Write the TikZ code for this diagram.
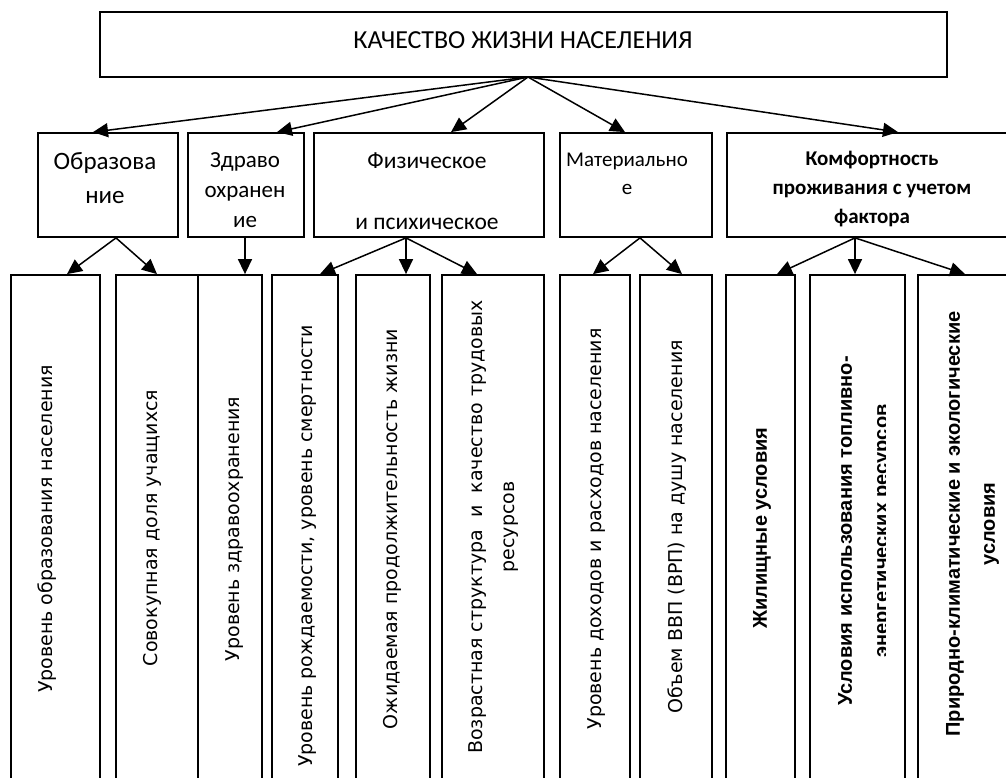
\documentclass[tikz,border=0pt]{standalone}
\usepackage{fontspec}
\setmainfont{Carlito}
\newfontfamily\vertfont{DejaVu Sans}
\newfontfamily\vboldfont{Liberation Sans}
\usetikzlibrary{arrows.meta}

\tikzset{
  box/.style={draw, line width=1.8pt, inner sep=0pt},
  vlbl/.style={rotate=90, align=center, font=\vertfont\fontsize{19}{32}\selectfont},
  vbold/.style={rotate=90, align=center, font=\vboldfont\bfseries\fontsize{20}{36}\selectfont},
  arr/.style={-{Triangle[length=15pt,width=14pt]}, line width=1.5pt}
}

\begin{document}
\begin{tikzpicture}[x=1pt,y=-1pt]
 \useasboundingbox (0,0) rectangle (1006,778);
 \clip (0,0) rectangle (1006,778);
 % top box
                \node[box, minimum width=847, minimum height=65] (qual) at (523.5,44.5) {};
                \node at (523,40) (qualT) [font=\fontsize{26}{30}\selectfont] {КАЧЕСТВО ЖИЗНИ НАСЕЛЕНИЯ};
                \coordinate (hub) at (528,77);
                % second row 
                \node[box, minimum width=140, minimum height=104] (obr) at (108,185) {};
                \node[box, minimum width=116, minimum height=104] (zdr) at (246,185) {};
                \node[box, minimum width=230, minimum height=104] (fiz) at (429,185) {};
                \node[box, minimum width=152, minimum height=104] (mat) at (636,185) {};
                \node[box, minimum width=290, minimum height=104] (komf) at (872,185) {};
                \node at (105,178) (obrT) [align=center, font=\fontsize{25}{34}\selectfont] {Образова\\ние};
                \node at (245,190) (zdrT) [align=center, font=\fontsize{23}{30}\selectfont] {Здраво\\охранен\\ие};
                \node at (427,191) (fizT) [align=center, font=\fontsize{23.5}{30.5}\selectfont] {Физическое\\[30.5pt]и психическое};
                \node at (627,174) (matT) [align=center, font=\fontsize{21}{28}\selectfont] {Материально\\е};
                \node at (872,189) (komfT) [align=center, font=\bfseries\fontsize{21}{29}\selectfont] {Комфортность\\проживания с учетом\\фактора};
                % arrows from the top 
                \draw [arr] (hub) -- ([xshift=-15pt]obr.north);
                \draw [arr] (hub) -- ([xshift=31pt]zdr.north);
                \draw [arr] (hub) -- ([xshift=22pt]fiz.north);
                \draw [arr] (hub) -- ([xshift=-11pt]mat.north);
                \draw [arr] (hub) -- ([xshift=26pt]komf.north);
                % bottom row 
                \node[box, minimum width=89, minimum height=506] (ind1) at (55.5,528) {};
                \node[box, minimum width=82, minimum height=506] (ind2) at (157,528) {};
                \node[box, minimum width=64, minimum height=506] (ind3) at (230,528) {};
                \node[box, minimum width=66, minimum height=506] (ind4) at (305,528) {};
                \node[box, minimum width=74, minimum height=506] (ind5) at (393,528) {};
                \node[box, minimum width=102, minimum height=506] (ind6) at (493,528) {};
                \node[box, minimum width=70, minimum height=506] (ind7) at (595,528) {};
                \node[box, minimum width=72, minimum height=506] (ind8) at (676,528) {};
                \node[box, minimum width=69, minimum height=506] (ind9) at (760.5,528) {};
                \node[box, minimum width=95, minimum height=506] (ind10) at (857.5,528) {};
                \node[box, minimum width=108, minimum height=506] (ind11) at (972,528) {};
                \node at (47,529) (ind1T) [vlbl] {Уровень образования населения};
                \node at (152,528) (ind2T) [vlbl] {Совокупная доля учащихся};
                \node at (235,529) (ind3T) [vlbl] {Уровень здравоохранения};
                \node at (308,546) (ind4T) [vlbl] {Уровень рождаемости, уровень смертности};
                \node at (392,529) (ind5T) [vlbl] {Ожидаемая продолжительность жизни};
                \node at (494,527) (ind6T) [vlbl] {Возрастная структура~~и~~качество трудовых\\ресурсов};
                \node at (597,529) (ind7T) [vlbl] {Уровень доходов и расходов населения};
                \node at (677,527) (ind8T) [vlbl] {Объем ВВП (ВРП) на душу населения};
                \node at (762,528) (ind9T) [vbold] {Жилищные условия};
                \begin{scope}
                \clip (ind10.north west) rectangle (885,781);
                \node at (865,531) (ind10T) [vbold] {Условия использования топливно-\\энергетических ресурсов};
                \end{scope}
                \node at (972.5,524) (ind11T) [vbold, font=\vboldfont\bfseries\fontsize{20}{35}\selectfont] {Природно-климатические и экологические\\условия};
                % arrows to the indicators 
                \draw [arr] ([xshift=8pt]obr.south) -- ([xshift=11.5pt]ind1.north);
                \draw [arr] ([xshift=8pt]obr.south) -- (ind2.north);
                \draw [arr] ([xshift=-1pt]zdr.south) -- ([xshift=15pt]ind3.north);
                \draw [arr] ([xshift=-23pt]fiz.south) -- ([xshift=15pt]ind4.north);
                \draw [arr] ([xshift=-23pt]fiz.south) -- ([xshift=13pt]ind5.north);
                \draw [arr] ([xshift=-23pt]fiz.south) -- ([xshift=-16pt]ind6.north);
                \draw [arr] ([xshift=4pt]mat.south) -- ([xshift=-2pt]ind7.north);
                \draw [arr] ([xshift=4pt]mat.south) -- ([xshift=6pt]ind8.north);
                \draw [arr] ([xshift=-17pt]komf.south) -- ([xshift=16.5pt]ind9.north);
                \draw [arr] ([xshift=-17pt]komf.south) -- ([xshift=-2.5pt]ind10.north);
                \draw [arr] ([xshift=-17pt]komf.south) -- ([xshift=-7pt]ind11.north);
\end{tikzpicture}
\end{document}
